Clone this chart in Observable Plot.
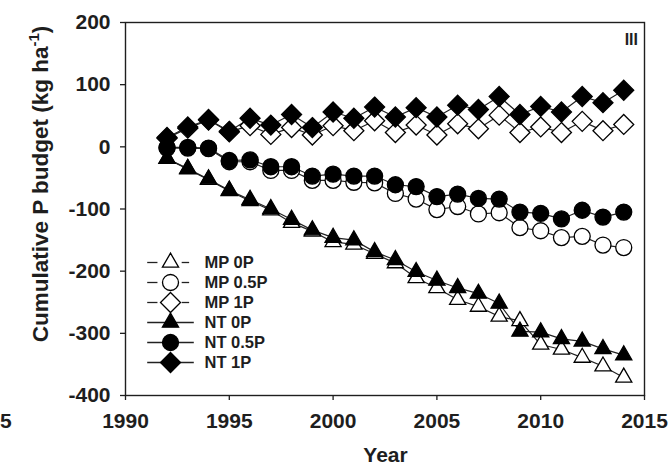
<!DOCTYPE html>
<html>
<head>
<meta charset="utf-8">
<script src="https://cdn.jsdelivr.net/npm/d3@7"></script>
<script src="https://cdn.jsdelivr.net/npm/@observablehq/plot@0.6"></script>
<style>
  body { margin: 0; background: #fff; }
  #chart { position: relative; width: 670px; height: 471px; overflow: hidden; background: #fff;
           font-family: "Liberation Sans", Arial, sans-serif; }
  #legend { position: absolute; left: 130px; top: 235px; }
</style>
</head>
<body>
<div id="chart"></div>
<script>
// Cumulative P budget (kg ha-1), 1992-2014
const years = [1992, 1993, 1994, 1995, 1996, 1997, 1998, 1999, 2000, 2001, 2002, 2003,
               2004, 2005, 2006, 2007, 2008, 2009, 2010, 2011, 2012, 2013, 2014];

const mp0P  = [-19, -36, -53, -71, -87, -102, -122, -136, -153, -157, -172, -187,
               -211, -227, -246, -257, -273, -280, -318, -326, -339, -353, -371];
const mp05P = [-2, -2, -3, -24, -24, -38, -38, -54, -54, -57, -58, -75,
               -84, -101, -96, -108, -106, -130, -135, -146, -144, -158, -162];
const mp1P  = [14, 30, 43, 24, 34, 20, 31, 19, 34, 26, 42, 23,
               35, 19, 37, 29, 51, 23, 32, 23, 41, 26, 36];
const nt0P  = [-19, -35, -52, -70, -85, -100, -117, -134, -146, -150, -169, -182,
               -201, -215, -227, -236, -252, -297, -298, -309, -313, -325, -335];
const nt05P = [-1, -1, -2, -22, -21, -32, -32, -47, -44, -47, -47, -61,
               -64, -80, -76, -83, -84, -105, -107, -116, -102, -113, -105];
const nt1P  = [15, 32, 44, 25, 46, 35, 52, 31, 56, 46, 64, 48,
               63, 48, 67, 60, 81, 52, 65, 56, 81, 71, 91];

const seriesNames = ["MP 0P", "MP 0.5P", "MP 1P", "NT 0P", "NT 0.5P", "NT 1P"];
const seriesValues = [mp0P, mp05P, mp1P, nt0P, nt05P, nt1P];

const xTicks = [1990, 1995, 2000, 2005, 2010, 2015];
const yTicks = [-400, -300, -200, -100, 0, 100, 200];

// marker look per series: open symbols for MP, filled for NT
const symbolOf = {"MP 0P": "triangle", "MP 0.5P": "circle", "MP 1P": "diamond2",
                  "NT 0P": "triangle", "NT 0.5P": "circle", "NT 1P": "diamond2"};
const radiusOf = {triangle: 6, circle: 8, diamond2: 9};
const filled = name => name.startsWith("NT");

const series = seriesNames.map((name, k) => ({
  name,
  symbol: symbolOf[name],
  r: radiusOf[symbolOf[name]],
  fill: filled(name) ? "#000" : "#fff",
  rows: years.map((year, i) => ({year, value: seriesValues[k][i], series: name}))
}));

const ink = "#1e1e1e";

const chart = Plot.plot({
  width: 670,
  height: 471,
  marginLeft: 125,
  marginRight: 26,
  marginTop: 22,
  marginBottom: 76,
  style: {fontFamily: "'Liberation Sans', Arial, sans-serif", fontSize: "21px", fontWeight: "bold", color: ink, background: "#fff"},
  x: {domain: [1990, 2015]},
  y: {domain: [-400, 200]},
  marks: [
    Plot.frame({stroke: ink, strokeWidth: 1.4}),
    Plot.axisX({ticks: xTicks, tickSize: 5, tickPadding: 13, tickFormat: d => String(d), label: null,
                fontSize: 21, fontWeight: "bold", stroke: ink, strokeWidth: 1.3}),
    Plot.axisY({ticks: yTicks, tickSize: 5, tickPadding: 10, tickFormat: d => String(d), label: null,
                fontSize: 21, fontWeight: "bold", stroke: ink, strokeWidth: 1.3}),
    ...series.map(s => Plot.line(s.rows, {x: "year", y: "value", stroke: "#222", strokeWidth: 1.2})),
    ...series.map(s => Plot.dot(s.rows, {x: "year", y: "value", symbol: () => s.symbol, r: s.r,
                                         fill: s.fill, stroke: "#000", strokeWidth: 1.3}))
  ]
});

const svg = d3.select(chart);

// y-axis title with superscript unit
const yTitle = svg.append("text")
  .attr("transform", "translate(48,184) rotate(-90)")
  .attr("text-anchor", "middle")
  .attr("font-size", 22.5)
  .attr("font-weight", "bold")
  .attr("fill", ink);
yTitle.append("tspan").text("Cumulative P budget (kg ha");
yTitle.append("tspan").attr("font-size", 15).attr("dy", -9).text("-1");
yTitle.append("tspan").attr("dy", 9).text(")");

// x-axis title
svg.append("text")
  .attr("x", 385.5).attr("y", 462)
  .attr("text-anchor", "middle")
  .attr("font-size", 21).attr("font-weight", "bold").attr("fill", ink)
  .text("Year");

// panel tag
svg.append("text")
  .attr("x", 638).attr("y", 45)
  .attr("text-anchor", "end")
  .attr("font-size", 16).attr("font-weight", "bold").attr("fill", ink)
  .text("III");

// last digit of the neighbouring panel's year label
svg.append("text")
  .attr("x", 0).attr("y", 428)
  .attr("text-anchor", "start")
  .attr("font-size", 21).attr("font-weight", "bold").attr("fill", ink)
  .text("5");

// legend: line segments, marker, label for each series
const legendSegments = seriesNames.flatMap(name => filled(name)
  ? [{name, x1: 0, x2: 1}]
  : [{name, x1: 0, x2: 0.22}, {name, x1: 0.74, x2: 0.9}]);

const legend = Plot.plot({
  width: 160,
  height: 150,
  margin: 0,
  style: {fontFamily: "'Liberation Sans', Arial, sans-serif", background: "transparent", color: ink},
  x: {domain: [0, 1], range: [16.7, 63.3], axis: null},
  y: {type: "point", domain: seriesNames, range: [16, 137], axis: null},
  marks: [
    Plot.link(legendSegments, {x1: "x1", x2: "x2", y1: "name", y2: "name", stroke: "#222", strokeWidth: 1.3}),
    ...series.map(s => Plot.dot([s.name], {x: () => 0.5, y: d => d, symbol: () => s.symbol, r: s.r,
                                           fill: s.fill, stroke: "#000", strokeWidth: 1.3})),
    Plot.text(seriesNames, {x: () => 1.23, y: d => d, text: d => d, textAnchor: "start",
                            fontSize: 16.5, fontWeight: "bold", fill: ink})
  ]
});
legend.id = "legend";

const host = document.getElementById("chart");
host.appendChild(chart);
host.appendChild(legend);
</script>
</body>
</html>
